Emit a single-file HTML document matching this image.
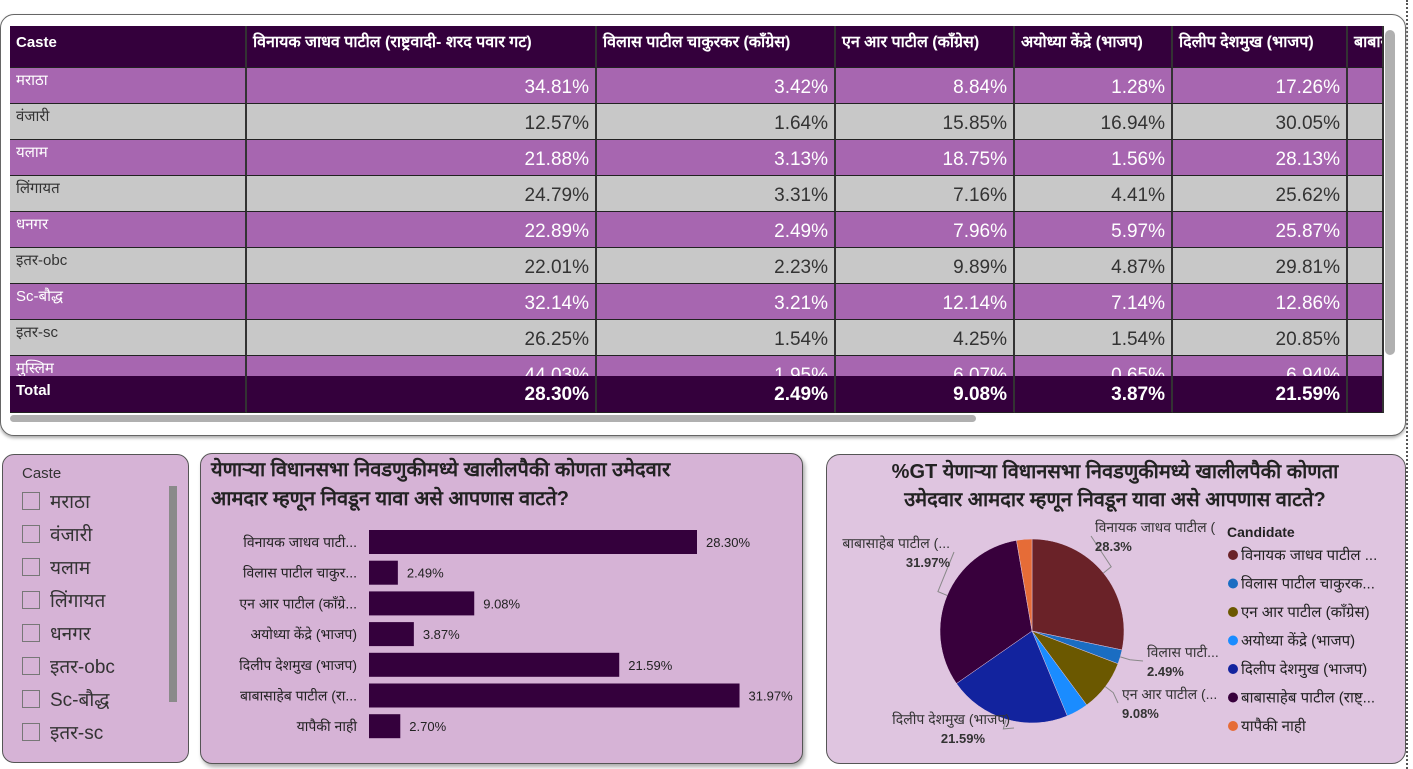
<!DOCTYPE html>
<html><head><meta charset="utf-8">
<style>
*{box-sizing:border-box;margin:0;padding:0}
body{width:1413px;height:769px;background:#fff;position:relative;overflow:hidden;font-family:"Liberation Sans","Noto Sans CJK JP",sans-serif}
.abs{position:absolute}
#tbl .c{position:absolute;border-right:2px solid #333;border-bottom:1px solid #222;overflow:hidden;white-space:nowrap}
</style></head>
<body>
<div class="abs" style="left:1406px;top:0;width:3px;height:769px;border-left:2px dotted #555"></div>
<div class="abs" style="left:0;top:14px;width:1406px;height:422px;border:1px solid #666;border-radius:14px;background:#fff;box-shadow:0 2px 3px #aaa"></div>
<div id="tbl" class="abs" style="left:10px;top:26px;width:1374px;height:387px;overflow:hidden"></div>
<div class="abs" style="left:1385px;top:30px;width:10px;height:325px;background:#b0b0b0;border-radius:5px"></div>
<div class="abs" style="left:10px;top:415px;width:966px;height:7px;background:#b0b0b0;border-radius:4px"></div>

<div class="abs" style="left:2px;top:454px;width:187px;height:309px;background:#d6b3d6;border:1px solid #555;border-radius:12px"></div>
<div class="abs" style="left:22px;top:465px;font-size:15px;color:#333">Caste</div>
<div id="slicer" class="abs" style="left:22px;top:486px;width:150px"></div>
<div class="abs" style="left:169px;top:486px;width:8px;height:216px;background:#8a8a8a"></div>

<div class="abs" style="left:200px;top:453px;width:603px;height:311px;background:#d6b3d6;border:1px solid #555;border-radius:12px;box-shadow:2px 3px 4px #aaa"></div>
<div class="abs" style="left:211px;top:456px;width:590px;font-size:20px;line-height:29px;color:#222;font-weight:bold;white-space:nowrap">येणाऱ्या विधानसभा निवडणुकीमध्ये खालीलपैकी कोणता उमेदवार<br>आमदार म्हणून निवडून यावा असे आपणास वाटते?</div>
<svg id="bars" class="abs" style="left:200px;top:453px" width="603" height="311"></svg>

<div class="abs" style="left:826px;top:454px;width:580px;height:310px;background:#dfc5e0;border:1px solid #555;border-radius:14px"></div>
<div class="abs" style="left:830px;top:458px;width:570px;text-align:center;font-size:20px;line-height:28px;color:#222;font-weight:bold;white-space:nowrap">%GT येणाऱ्या विधानसभा निवडणुकीमध्ये खालीलपैकी कोणता<br>उमेदवार आमदार म्हणून निवडून यावा असे आपणास वाटते?</div>
<svg id="pie" class="abs" style="left:0;top:0" width="1413" height="769"></svg>

<script>
// ---- table data ----
const tableHeaders=["Caste","विनायक जाधव पाटील (राष्ट्रवादी- शरद पवार गट)","विलास पाटील चाकुरकर (कॉंग्रेस)","एन आर पाटील (कॉंग्रेस)","अयोध्या केंद्रे (भाजप)","दिलीप देशमुख (भाजप)","बाबासाहेब पाटील (राष्ट्रवादी)"];
const castes=["मराठा","वंजारी","यलाम","लिंगायत","धनगर","इतर-obc","Sc-बौद्ध","इतर-sc","मुस्लिम"];
const colVinayak=["34.81%","12.57%","21.88%","24.79%","22.89%","22.01%","32.14%","26.25%","44.03%"];
const colVilas=["3.42%","1.64%","3.13%","3.31%","2.49%","2.23%","3.21%","1.54%","1.95%"];
const colNR=["8.84%","15.85%","18.75%","7.16%","7.96%","9.89%","12.14%","4.25%","6.07%"];
const colAyodhya=["1.28%","16.94%","1.56%","4.41%","5.97%","4.87%","7.14%","1.54%","0.65%"];
const colDilip=["17.26%","30.05%","28.13%","25.62%","25.87%","29.81%","12.86%","20.85%","6.94%"];
const totals=["28.30%","2.49%","9.08%","3.87%","21.59%"];
const colEdges=[0,237,587,826,1005,1163,1338,1374];
const F='"Liberation Sans","Noto Sans CJK JP",sans-serif';
const tbl=document.getElementById('tbl');
function cell(x0,x1,y,h,bg,txt,opts){
  const d=document.createElement('div');d.className='c';
  d.style.cssText+=`left:${x0}px;top:${y}px;width:${x1-x0}px;height:${h}px;background:${bg};color:${opts.color};font-size:${opts.fs}px;font-weight:${opts.bold?'bold':'normal'};text-align:${opts.align};padding:${opts.pad};line-height:${opts.lh}px`;
  d.textContent=txt;tbl.appendChild(d);return d;
}
tableHeaders.forEach((h,i)=>{
  const d=cell(colEdges[i],colEdges[i+1],0,42,'#34003c',h,{color:'#fff',fs:i==0?15:16,bold:true,align:'left',pad:'0 6px',lh:34});
  
  
});
const cols=[colVinayak,colVilas,colNR,colAyodhya,colDilip];
castes.forEach((c,r)=>{
  const y=42+r*36, purple=r%2==0, bg=purple?'#a766b0':'#c8c8c8', fg=purple?'#fff':'#333';
  const d=cell(colEdges[0],colEdges[1],y,36,bg,c,{color:fg,fs:15,align:'left',pad:'0 6px',lh:26});
  
  
  cols.forEach((col,j)=>{
    const e=cell(colEdges[j+1],colEdges[j+2],y,36,bg,col[r],{color:fg,fs:19,align:'right',pad:'0 6px',lh:40});
    
    
  });
  const e=cell(colEdges[6],colEdges[7],y,36,bg,'',{color:fg,fs:19,align:'right',pad:'0',lh:40});
  
  
});
{
  const d=cell(colEdges[0],colEdges[1],350,37,'#34003c','Total',{color:'#fff',fs:15,bold:true,align:'left',pad:'0 6px',lh:30});
  
  
  totals.forEach((t,j)=>{
    const e=cell(colEdges[j+1],colEdges[j+2],350,37,'#34003c',t,{color:'#fff',fs:19,bold:true,align:'right',pad:'0 6px',lh:38});
    
    
  });
  const e=cell(colEdges[6],colEdges[7],350,37,'#34003c','',{color:'#fff',fs:19,align:'right',pad:'0',lh:38});
  
  
}
// ---- slicer ----
const slicerItems=["मराठा","वंजारी","यलाम","लिंगायत","धनगर","इतर-obc","Sc-बौद्ध","इतर-sc"];
const sl=document.getElementById('slicer');
slicerItems.forEach((s,i)=>{
  const row=document.createElement('div');
  row.style.cssText=`position:absolute;left:0;top:${i*33}px;height:30px;display:flex;align-items:center;font-size:19px;color:#333`;
  row.innerHTML=`<span style="display:inline-block;width:18px;height:18px;border:1px solid #777;margin-right:10px"></span>${s}`;
  
  
  sl.appendChild(row);
});
// ---- bar chart ----
const NS='http://www.w3.org/2000/svg';
const candShort=["विनायक जाधव पाटी...","विलास पाटील चाकुर...","एन आर पाटील (कॉंग्रे...","अयोध्या केंद्रे (भाजप)","दिलीप देशमुख (भाजप)","बाबासाहेब पाटील (रा...","यापैकी नाही"];
const barValues=[28.30,2.49,9.08,3.87,21.59,31.97,2.70];
const barLabels=["28.30%","2.49%","9.08%","3.87%","21.59%","31.97%","2.70%"];
const bx0=169, pxPer=11.59, by0=77, bstep=30.7, bh=24;
function xS(v){return bx0+v*pxPer}
function yS(i){return by0+i*bstep}
const bs=document.getElementById('bars');
function mk(p,tag,attrs,txt){const e=document.createElementNS(NS,tag);for(const k in attrs)e.setAttribute(k,attrs[k]);if(txt!=null)e.textContent=txt;p.appendChild(e);return e}
barValues.forEach((v,i)=>{
  const r=mk(bs,'rect',{x:bx0,y:yS(i),width:xS(v)-bx0,height:bh,fill:'#34003c'});
  
  
  const t=mk(bs,'text',{x:xS(v)+9,y:yS(i)+17,'font-size':13,fill:'#222','font-family':F},barLabels[i]);
  
  
  const c=mk(bs,'text',{x:157,y:yS(i)+17,'font-size':14,fill:'#222','text-anchor':'end','font-family':F},candShort[i]);
  
  
});
// ---- pie chart ----
const pieValues=[28.30,2.49,9.08,3.87,21.59,31.97,2.70];
const pieColors=["#6a2228","#1a6dc2","#6b5800","#1a8cff","#12239e","#38003c","#e66c37"];
const legendNames=["विनायक जाधव पाटील ...","विलास पाटील चाकुरक...","एन आर पाटील (कॉंग्रेस)","अयोध्या केंद्रे (भाजप)","दिलीप देशमुख (भाजप)","बाबासाहेब पाटील (राष्ट्...","यापैकी नाही"];
const pieLabels=[["विनायक जाधव पाटील (","28.3%"],["विलास पाटी...","2.49%"],["एन आर पाटील (...","9.08%"],null,["दिलीप देशमुख (भाजप)","21.59%"],["बाबासाहेब पाटील (...","31.97%"],null];
// label box placement (layout only): [x, y, anchor]
const labelBox=[[1095,532,'start'],[1147,657,'start'],[1122,699,'start'],null,[1010,724,'end'],[950,548,'end'],null];
const cx=1032, cy=631, R=92;
const pie=document.getElementById('pie');
const tot=pieValues.reduce((a,b)=>a+b,0);
let acc=0;
function pt(a,r){return [cx+r*Math.sin(a),cy-r*Math.cos(a)]}
pieValues.forEach((v,i)=>{
  const a0=acc/tot*2*Math.PI; acc+=v; const a1=acc/tot*2*Math.PI;
  const p0=pt(a0,R),p1=pt(a1,R),large=(a1-a0)>Math.PI?1:0;
  const p=mk(pie,'path',{d:`M${cx},${cy}L${p0[0]},${p0[1]}A${R},${R} 0 ${large} 1 ${p1[0]},${p1[1]}Z`,fill:pieColors[i],stroke:'#dfc5e0','stroke-width':0.5});
  
  
  const lab=pieLabels[i], lb=labelBox[i];
  if(lab&&lb){
    const am=(a0+a1)/2, q=pt(am,R), q2=pt(am,R+10);
    const right=lb[2]==='start';
    const lx=right?lb[0]-4:lb[0]+4, ly=lb[1]+4;
    mk(pie,'polyline',{points:`${q[0]},${q[1]} ${q2[0]},${q2[1]} ${lx},${ly}`,fill:'none',stroke:'#888','stroke-width':1});
    const t1=mk(pie,'text',{x:lb[0],y:lb[1],'font-size':14,fill:'#333','text-anchor':lb[2],'font-family':F},lab[0]);
    
    
    const vx=(i===4)?lb[0]-25:lb[0];
    const t2=mk(pie,'text',{x:vx,y:lb[1]+19,'font-size':13,'font-weight':'bold',fill:'#333','text-anchor':lb[2],'font-family':F},lab[1]);
    
    
  }
});
const lt=mk(pie,'text',{x:1227,y:537,'font-size':14,'font-weight':'bold',fill:'#222','font-family':F},'Candidate');


legendNames.forEach((n,i)=>{
  const y=555+i*28.5;
  const c=mk(pie,'circle',{cx:1233,cy:y,r:5,fill:pieColors[i]});
  
  
  const t=mk(pie,'text',{x:1241,y:y+5,'font-size':15,fill:'#222','font-family':F},n);
  
  
});
</script>
</body></html>
